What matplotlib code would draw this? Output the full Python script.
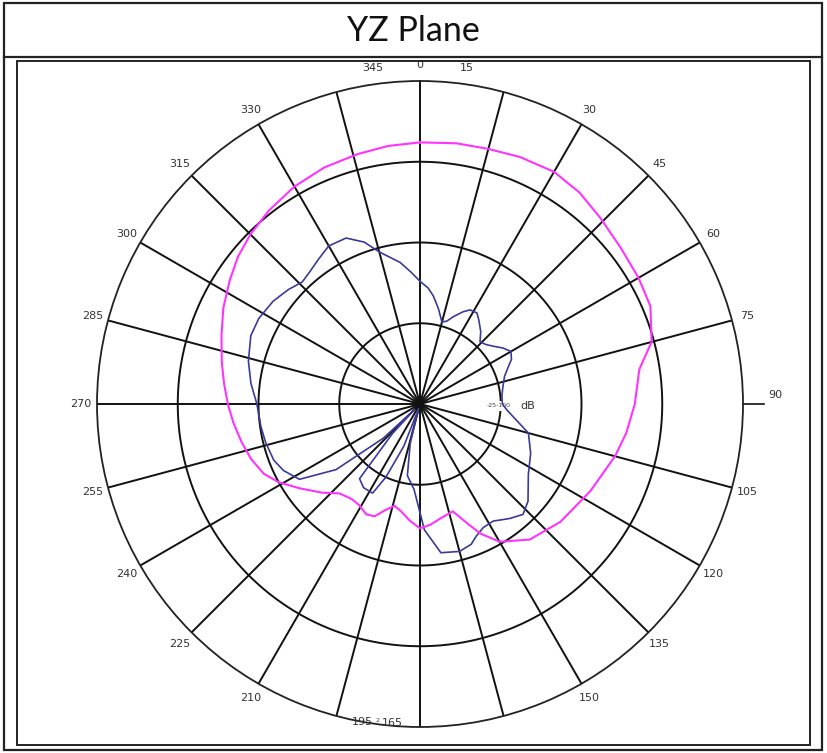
import numpy as np
import matplotlib
matplotlib.use('Agg')
import matplotlib.pyplot as plt
from matplotlib.patches import Rectangle
from matplotlib.lines import Line2D

W, H = 827, 753

# pattern data (angle in deg, level in dB; rings every 10 dB, centre -40 dB)
blue_ang = [0, 4, 7, 11, 15, 18, 21, 25, 28, 32, 35, 40, 44, 48, 52, 56, 60, 64, 67, 72,
            78, 84, 90, 94, 98, 105, 114, 123, 132, 137, 142, 148, 153, 157, 160, 165,
            172, 178, 184, 190, 194, 197, 201, 205, 208, 214, 219, 223, 225, 227, 232,
            238, 244, 249, 256, 262, 270, 277, 284, 292, 298, 305, 311, 316, 320, 325,
            330, 336, 341, 345, 352, 356]
blue_db = [-24.8, -25.6, -26.5, -28.0, -29.5, -29.2, -28.4, -27.4, -26.8, -26.7, -27.3,
           -28.3, -29.3, -29.0, -28.4, -27.6, -27.0, -27.4, -28.1, -29.0, -29.5, -29.8,
           -29.8, -29.2, -28.3, -26.1, -25.0, -24.0, -22.0, -21.3, -22.0, -22.9, -22.8,
           -22.2, -21.5, -21.1, -21.4, -24.4, -29.4, -31.0, -35.0, -39.4, -34.4, -30.0,
           -27.5, -27.5, -28.1, -35.0, -39.0, -33.8, -26.8, -22.4, -21.2, -20.6, -20.3,
           -20.1, -19.8, -18.9, -18.1, -17.4, -17.4, -17.8, -18.4, -19.0, -18.7, -18.1,
           -17.4, -17.5, -18.8, -20.5, -22.3, -23.6]

mag_ang = [0, 8, 15, 22, 30, 37, 44, 52, 60, 67, 75, 81, 90, 98, 105, 117, 130, 141,
           150, 155, 159, 163, 170, 175, 180, 185, 190, 194, 198, 202, 206, 211, 216,
           222, 228, 235, 241, 246, 252, 258, 264, 270, 276, 282, 289, 296, 303, 309,
           315, 322, 330, 338, 346, 353]
mag_db = [-7.6, -7.4, -7.3, -7.0, -6.8, -7.2, -7.9, -8.5, -8.75, -9.0, -10.3, -12.5,
          -13.4, -14.2, -15.0, -16.3, -17.3, -18.4, -20.3, -22.3, -24.4, -26.1, -25.6,
          -25.0, -24.6, -25.5, -26.5, -27.0, -26.2, -25.0, -24.8, -25.4, -25.5, -25.1,
          -23.6, -21.8, -20.0, -18.8, -18.0, -17.4, -16.8, -16.2, -15.6, -14.9, -14.0,
          -12.9, -11.9, -11.0, -10.3, -9.6, -8.9, -8.4, -8.1, -7.8]

spoke_ang = list(range(0, 360, 15))
ring_db = [-30, -20, -10, 0]
rmin, rmax = -40, 0

def fx(x):
    return x / W

def fy(y):
    return 1 - y / H

fig = plt.figure(figsize=(W / 100, H / 100), dpi=100)
fig.patch.set_facecolor('white')

# table cell borders
fig.add_artist(Rectangle((fx(4), fy(750)), fx(818), 747 / H, fill=False,
                         ec='#222222', lw=1.6, transform=fig.transFigure))
fig.add_artist(Line2D([fx(4), fx(822)], [fy(57), fy(57)], color='#222222', lw=1.6,
                      transform=fig.transFigure))
fig.add_artist(Rectangle((fx(17), fy(745)), fx(793), 684 / H, fill=False,
                         ec='#222222', lw=1.4, transform=fig.transFigure))
fig.text(0.5, fy(31), 'YZ Plane', ha='center', va='center', fontsize=24.5,
         family='Lato', color='#111111')

# polar chart
cx, cy, R = 420, 404, 323
ax = fig.add_axes([fx(cx - R), fy(cy + R), 2 * R / W, 2 * R / H], projection='polar')
ax.set_theta_zero_location('N')
ax.set_theta_direction(-1)
ax.set_ylim(rmin, rmax)
ax.grid(False)
ax.set_xticks([])
ax.set_yticks([])
ax.spines['polar'].set_color('#222222')
ax.spines['polar'].set_linewidth(1.3)

th = np.linspace(0, 2 * np.pi, 400)
for r in ring_db[:-1]:
    ax.plot(th, np.full_like(th, r), color='#111111', lw=1.4, zorder=1)
for a in spoke_ang:
    if a == 90:
        continue
    ax.plot([np.radians(a)] * 2, [rmin, rmax], color='#111111', lw=1.4, zorder=1)
# short underline at 90 outside the circle
ax.plot([np.radians(90)] * 2, [rmax, rmax + 2.6], color='#111111', lw=1.2,
        clip_on=False)

# angle labels (the source chart nudges a few of them)
nudge = {15: 8, 345: 352, 165: 185.0, 195: 190.3}
for a in spoke_ang:
    if a in (90, 180):
        continue
    ang = nudge.get(a, a)
    rr = rmax + 2.0
    if a == 195:
        rr = rmax
    if a == 165:
        rr = rmax - 0.4
    ax.text(np.radians(ang), rr, str(a), ha='center', va='center',
            fontsize=8, color='#333333', clip_on=False, zorder=5)
ax.text(np.radians(187.7), rmax - 0.5, '2', ha='center', va='center',
        fontsize=4.5, color='#444444', clip_on=False, zorder=5)
ax.text(np.radians(88.5), rmax + 4.0, '90', ha='center', va='center',
        fontsize=8, color='#333333', clip_on=False)

# dB marker text
ax.text(0.604, 0.497, '-25-100', transform=ax.transAxes, fontsize=4.5,
        color='#444444', ha='left', va='center',
        bbox=dict(fc='white', ec='none', pad=1.5))
ax.text(0.656, 0.497, 'dB', transform=ax.transAxes, fontsize=8,
        color='#333333', ha='left', va='center')

bt = np.radians(blue_ang + [blue_ang[0]])
ax.plot(bt, blue_db + [blue_db[0]], color='#3a3a9a', lw=1.2, zorder=3)
mt = np.radians(mag_ang + [mag_ang[0]])
ax.plot(mt, mag_db + [mag_db[0]], color='#ff33ff', lw=1.5, zorder=3)

fig.savefig('out.png', dpi=100)
